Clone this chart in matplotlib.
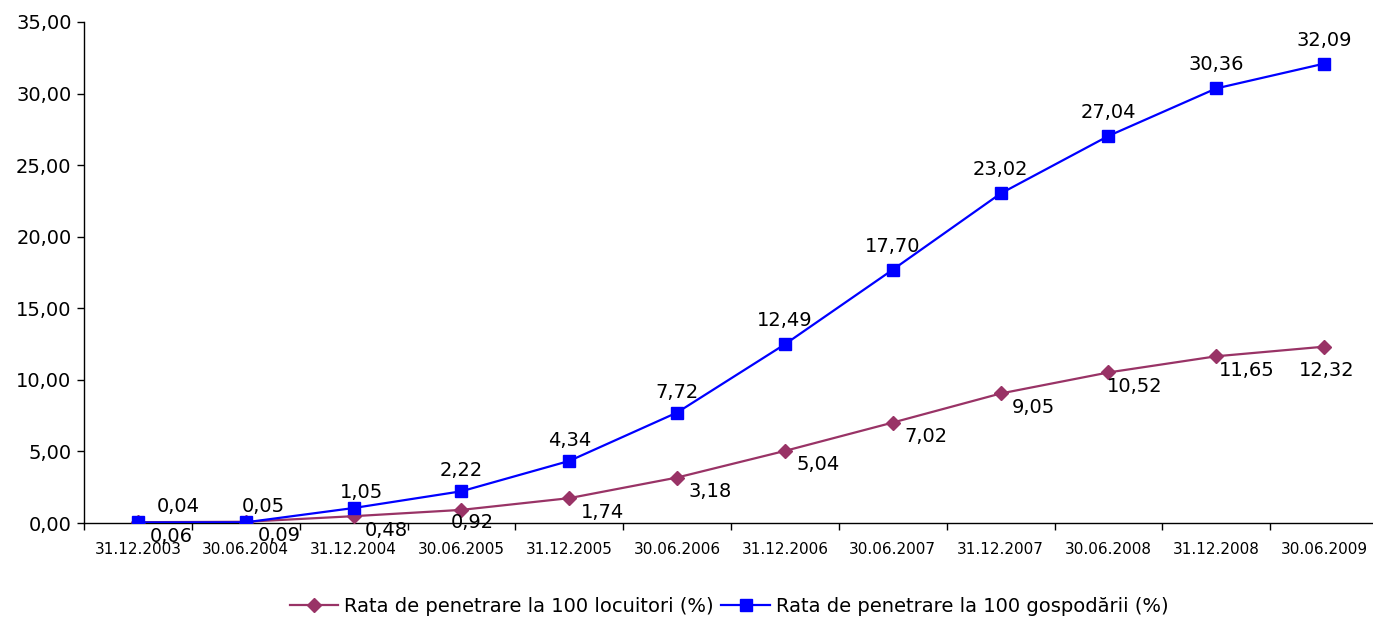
import matplotlib.pyplot as plt
from matplotlib.ticker import FuncFormatter, FixedLocator

dates = ['31.12.2003', '30.06.2004', '31.12.2004', '30.06.2005', '31.12.2005', '30.06.2006',
         '31.12.2006', '30.06.2007', '31.12.2007', '30.06.2008', '31.12.2008', '30.06.2009']
rata_locuitori = [0.06, 0.09, 0.48, 0.92, 1.74, 3.18, 5.04, 7.02, 9.05, 10.52, 11.65, 12.32]
rata_gospodarii = [0.04, 0.05, 1.05, 2.22, 4.34, 7.72, 12.49, 17.70, 23.02, 27.04, 30.36, 32.09]

name_loc = 'Rata de penetrare la 100 locuitori (%)'
name_gosp = 'Rata de penetrare la 100 gospodării (%)'

col_loc = '#993366'
col_gosp = '#0000FF'


def fmt(v):
    return ('%.2f' % v).replace('.', ',')


def main():
    plt.rcParams['font.family'] = ['DejaVu Sans']
    fig = plt.figure(figsize=(13.73, 6.19), dpi=100)
    ax = fig.add_axes([0.0612, 0.155, 0.9425, 0.8095])

    x = list(range(len(dates)))
    ax.plot(x, rata_locuitori, color=col_loc, lw=1.6, marker='D', ms=7.5, label=name_loc, zorder=3)
    ax.plot(x, rata_gospodarii, color=col_gosp, lw=1.6, marker='s', ms=8, label=name_gosp, zorder=4)

    # label offsets in pixels
    for i, v in enumerate(rata_gospodarii):
        dx, dy = 0, 11
        if i == 0:
            dx, dy = 40, 6
        elif i == 1:
            dx, dy = 18, 6
        elif i == 2:
            dx, dy = 8, 6
        elif i >= 6:
            dy = 14
        ax.annotate(fmt(v), (i, v), xytext=(dx * 0.72, dy * 0.72), textcoords='offset points',
                    ha='center', va='bottom', fontsize=14, zorder=5)
    for i, v in enumerate(rata_locuitori):
        dx, dy = 33, -14
        if i == 3:
            dx, dy = 11, -13
        elif i == 9:
            dx = 26
        elif i == 10:
            dx = 30
        elif i == 11:
            dx, dy = 3, -24
        ax.annotate(fmt(v), (i, v), xytext=(dx * 0.72, dy * 0.72), textcoords='offset points',
                    ha='center', va='center', fontsize=14, zorder=5)

    ax.set_xlim(-0.5, len(dates) - 0.5)
    ax.set_ylim(0, 35)
    ax.set_yticks([0, 5, 10, 15, 20, 25, 30, 35])
    ax.yaxis.set_major_formatter(FuncFormatter(lambda v, p: fmt(v)))
    ax.tick_params(axis='y', labelsize=14, length=5, width=1, direction='out', pad=4)

    ax.set_xticks(x)
    ax.set_xticklabels(dates)
    ax.tick_params(axis='x', which='major', length=0, labelsize=11, pad=14)
    ax.xaxis.set_minor_locator(FixedLocator([i + 0.5 for i in range(-1, len(dates))]))
    ax.tick_params(axis='x', which='minor', length=5, width=1, direction='out')

    ax.spines['top'].set_visible(False)
    ax.spines['right'].set_visible(False)
    for s in ['left', 'bottom']:
        ax.spines[s].set_linewidth(1)
        ax.spines[s].set_color('black')

    ax.legend(loc='center', bbox_to_anchor=(0.531, 0.02), bbox_transform=fig.transFigure, ncol=2,
              frameon=False, fontsize=14, handlelength=2.5, columnspacing=0.4, handletextpad=0.3)

    fig.savefig('out.png', dpi=100)
    plt.close(fig)


if __name__ == '__main__':
    main()
